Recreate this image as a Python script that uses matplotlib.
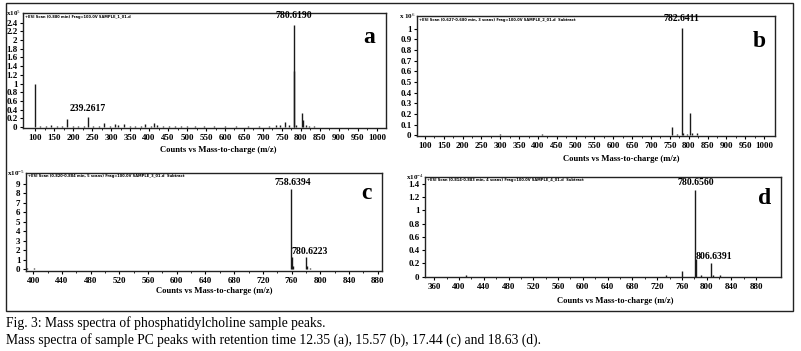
import matplotlib.pyplot as plt
from matplotlib.patches import Rectangle

W, H = 801, 351

# panel a
a_mz = [100, 113, 128, 142, 157, 171, 185, 200, 214, 228, 239.26, 253, 268, 282, 296,
        310, 318, 335, 350, 364, 378, 390, 404, 412, 420, 436, 452, 468, 484, 500,
        520, 545, 570, 600, 630, 660, 690, 715, 735, 745, 757, 768, 780.62, 782, 787,
        802, 805, 812, 820, 834]
a_int = [1.0, 0.03, 0.02, 0.04, 0.02, 0.03, 0.19, 0.02, 0.03, 0.02, 0.23, 0.03, 0.02, 0.10, 0.03,
         0.07, 0.06, 0.08, 0.03, 0.03, 0.02, 0.08, 0.03, 0.10, 0.04, 0.03, 0.02, 0.03, 0.02, 0.03,
         0.02, 0.02, 0.02, 0.02, 0.02, 0.03, 0.02, 0.03, 0.04, 0.05, 0.12, 0.04, 2.35, 1.28, 0.05,
         0.33, 0.17, 0.05, 0.03, 0.02]

# panel b
b_mz = [300, 410, 757, 770, 782.64, 786, 795, 804, 808, 822]
b_int = [0.01, 0.01, 0.075, 0.01, 1.01, 0.02, 0.01, 0.21, 0.02, 0.02]

# panel c
c_mz = [392, 396, 401, 406, 412, 420, 430, 758.64, 760, 762, 770, 780.62, 782, 785]
c_int = [0.12, 0.08, 0.10, 0.06, 0.05, 0.04, 0.03, 8.45, 1.3, 0.3, 0.08, 1.3, 0.4, 0.1]

# panel d
d_mz = [412, 735, 760, 780.66, 782, 790, 806.64, 810, 822]
d_int = [0.02, 0.03, 0.08, 1.31, 0.27, 0.02, 0.2, 0.02, 0.02]

panels = [
    dict(mz=a_mz, inten=a_int, box=(23, 13, 386, 128), xlim=(68, 1024), ylim=(-0.02, 2.62),
         xticks=list(range(100, 1001, 50)), yticks=[0, 0.2, 0.4, 0.6, 0.8, 1, 1.2, 1.4, 1.6, 1.8, 2, 2.2, 2.4],
         mult=r'x10$^{5}$', letter='a', xlab_x=0.537, pad=3,
         header='+ESI Scan (0.880 min) Frag=100.0V SAMPLE_1_01.d',
         labels=[(239.26, 0.33, '239.2617'), (782, 2.45, '780.6190')]),
    dict(mz=b_mz, inten=b_int, box=(417, 16, 775, 136), xlim=(79, 1029), ylim=(-0.005, 1.12),
         xticks=list(range(100, 1001, 50)), yticks=[0, 0.1, 0.2, 0.3, 0.4, 0.5, 0.6, 0.7, 0.8, 0.9, 1],
         mult=r'x 10$^{6}$', letter='b', xlab_x=0.57, pad=2,
         header='+ESI Scan (0.627-0.680 min, 3 scans) Frag=100.0V SAMPLE_2_01.d  Subtract',
         labels=[(781, 1.05, '782.6411')]),
    dict(mz=c_mz, inten=c_int, box=(26, 173, 382, 271), xlim=(390, 886), ylim=(-0.18, 10.16),
         xticks=list(range(400, 881, 40)), yticks=list(range(0, 10)),
         mult=r'x10$^{-5}$', letter='c', xlab_x=0.528, pad=1.5,
         header='+ESI Scan (0.820-0.884 min, 5 scans) Frag=100.0V SAMPLE_3_01.d  Subtract',
         labels=[(762, 8.7, '758.6394'), (785, 1.45, '780.6223')]),
    dict(mz=d_mz, inten=d_int, box=(425, 177, 781, 277), xlim=(345, 920), ylim=(-0.005, 1.505),
         xticks=list(range(360, 881, 40)), yticks=[0, 0.2, 0.4, 0.6, 0.8, 1, 1.2, 1.4],
         mult=r'x10$^{-4}$', letter='d', xlab_x=0.534, pad=7,
         header='+ESI Scan (0.814-0.883 min, 4 scans) Frag=100.0V SAMPLE_4_01.d  Subtract',
         labels=[(782, 1.36, '780.6560'), (811, 0.24, '806.6391')]),
]

caption1 = 'Fig. 3: Mass spectra of phosphatidylcholine sample peaks.'
caption2 = 'Mass spectra of sample PC peaks with retention time 12.35 (a), 15.57 (b), 17.44 (c) and 18.63 (d).'

plt.rcParams['font.family'] = ['Liberation Serif', 'DejaVu Serif']
plt.rcParams['mathtext.fontset'] = 'custom'
plt.rcParams['mathtext.rm'] = 'Liberation Serif'

fig = plt.figure(figsize=(W / 100, H / 100), dpi=100)

# outer frame
fig.patches.append(Rectangle((6 / W, 1 - 311 / H), (793 - 6) / W, (311 - 3) / H,
                             transform=fig.transFigure, fill=False, ec='#222', lw=1.0))

for p in panels:
    l, t, r, b = p['box']
    ax = fig.add_axes([l / W, 1 - b / H, (r - l) / W, (b - t) / H])
    ax.vlines(p['mz'], 0, p['inten'], color='#1a1a1a', lw=1.0)
    ax.set_xlim(*p['xlim'])
    ax.set_ylim(*p['ylim'])
    ax.set_xticks(p['xticks'])
    ax.set_xticks([x + (p['xticks'][1] - p['xticks'][0]) / 2 for x in p['xticks'][:-1]], minor=True)
    ax.set_yticks(p['yticks'])
    ax.set_yticklabels([('%g' % v) for v in p['yticks']])
    ax.tick_params(axis='both', direction='out', length=2.5, width=0.8, pad=1.5,
                   labelsize=6.5, top=False, right=False)
    ax.tick_params(axis='x', which='minor', length=1.5, width=0.6)
    for lab in ax.get_xticklabels() + ax.get_yticklabels():
        lab.set_fontweight('bold')
    for s in ax.spines.values():
        s.set_linewidth(1.0)
        s.set_color('#222')
    ax.set_xlabel('Counts vs Mass-to-charge (m/z)', fontsize=6.2, fontweight='bold', labelpad=p['pad'])
    ax.xaxis.set_label_coords(p['xlab_x'], -0.16 if l < 400 or p['letter'] == 'b' else -0.2)
    ax.xaxis.label.set_va('top')
    ax.text(0.005, 0.985, p['header'], transform=ax.transAxes, fontsize=2.6,
            fontweight='bold', family='DejaVu Sans', va='top', ha='left')
    ax.text(-0.005, 1.0, p['mult'], transform=ax.transAxes, fontsize=5, fontweight='bold',
            ha='right', va='center')
    ax.text(0.955, 0.79, p['letter'], transform=ax.transAxes, fontsize=17,
            fontweight='bold', ha='center', va='center')
    for x, y, s in p['labels']:
        ax.text(x, y, s, fontsize=7, fontweight='bold', ha='center', va='bottom')

fig.text(6 / W, 1 - 323 / H, caption1, fontsize=9.8, va='center', ha='left')
fig.text(6 / W, 1 - 340 / H, caption2, fontsize=9.8, va='center', ha='left')

fig.savefig('out.png', dpi=100)
